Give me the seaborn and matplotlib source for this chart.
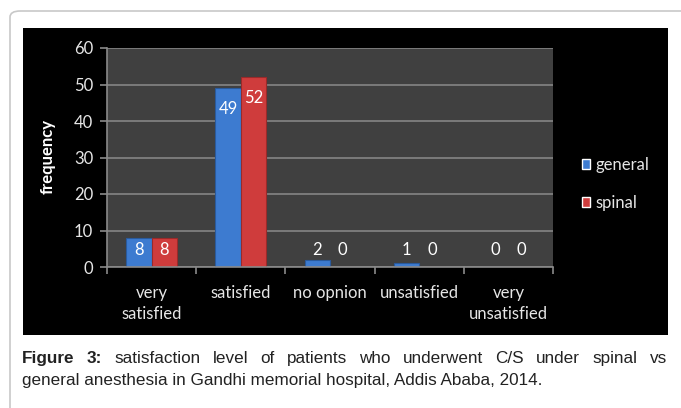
import pandas as pd
import numpy as np
import matplotlib.pyplot as plt
import seaborn as sns
from matplotlib.patches import Rectangle, FancyBboxPatch

# Chart data
categories = ['very\nsatisfied', 'satisfied', 'no opnion', 'unsatisfied', 'very\nunsatisfied']
general = [8, 49, 2, 1, 0]
spinal = [8, 52, 0, 0, 0]
groups = ['general', 'spinal']

df = pd.DataFrame({
    'category': categories * 2,
    'group': ['general'] * len(categories) + ['spinal'] * len(categories),
    'value': general + spinal,
})

sns.set_style('dark')
plt.rcParams['font.family'] = ['Lato', 'DejaVu Sans']

W, H = 681, 408
fig = plt.figure(figsize=(W / 100, H / 100), dpi=100)
fig.patch.set_facecolor('white')

# outer rounded frame and black chart area
frame = FancyBboxPatch((10 / W, 1 - 500 / H), 800 / W, 489 / H,
                       boxstyle='round,pad=0,rounding_size=0.015',
                       transform=fig.transFigure, facecolor='white',
                       edgecolor='#c8c8c8', linewidth=1.2, zorder=-2)
fig.patches.append(frame)
fig.patches.append(Rectangle((23 / W, 1 - 335 / H), 645 / W, 307 / H,
                             transform=fig.transFigure, facecolor='black',
                             edgecolor='none', zorder=-1))

ax = fig.add_axes([107 / W, 1 - 267 / H, 446 / W, 219 / H])
palette = {'general': '#3d7bd0', 'spinal': '#cf3c3c'}
sns.barplot(data=df, x='category', y='value', hue='group', palette=palette,
            width=0.57, saturation=1, ax=ax, legend=True)
edge = {0: '#2a5a9c', 1: '#9a2a2a'}
for i, cont in enumerate(ax.containers):
    for bar in cont:
        bar.set_edgecolor(edge[i])
        bar.set_linewidth(0.8)

ax.set_facecolor('#404040')
ax.set_ylim(0, 60)
ax.set_yticks(range(0, 61, 10))
ax.set_xlim(-0.5, len(categories) - 0.5)
ax.grid(axis='y', color='#858585', linewidth=1.2)
ax.grid(axis='x', visible=False)
ax.set_axisbelow(True)
for s in ['top', 'right']:
    ax.spines[s].set_visible(False)
for s in ['left', 'bottom']:
    ax.spines[s].set_color('#8a8a8a')
    ax.spines[s].set_linewidth(1.2)

ax.tick_params(axis='y', colors='#8a8a8a', labelcolor='#e6e6e6', labelsize=12,
               length=5, width=1.2, direction='out', left=True, pad=5)
ax.tick_params(axis='x', which='major', length=0, labelcolor='#e6e6e6',
               labelsize=12, pad=13)
ax.set_xticks(np.arange(-0.5, len(categories)), minor=True)
ax.tick_params(axis='x', which='minor', length=5, width=1.2, color='#8a8a8a',
               direction='out', bottom=True)
for lbl in ax.get_xticklabels():
    lbl.set_linespacing(1.35)

ax.set_xlabel('')
ax.set_ylabel('frequency', color='white', fontsize=12, fontweight='bold')
ax.yaxis.set_label_coords((56 - 107) / 446, (267 - 157) / 219)

# bar value labels
px_per_unit = 219 / 60
for cont in ax.containers:
    for bar in cont:
        v = bar.get_height()
        y = max(v - 21 / px_per_unit, 17 / px_per_unit)
        ax.text(bar.get_x() + bar.get_width() / 2, y, f'{int(v)}',
                ha='center', va='center', color='white', fontsize=12)

leg = ax.legend(loc='center left', frameon=False, handlelength=0.5,
                handleheight=0.5, handletextpad=0.3, labelspacing=1.3,
                fontsize=12, labelcolor='#e6e6e6')
leg.set_bbox_to_anchor((567 / W, 1 - 184 / H), transform=fig.transFigure)

# caption, first line justified between x=22 and x=667
cap_font = dict(fontsize=12.3, family=['Liberation Sans'], color='#222222', va='baseline')
line1 = [('Figure', 'bold'), ('3:', 'bold')] + [
    (w, 'normal') for w in 'satisfaction level of patients who underwent C/S under spinal vs'.split()]
fig.canvas.draw()
renderer = fig.canvas.get_renderer()
texts = []
for word, weight in line1:
    t = fig.text(0, 1 - 363 / H, word, fontweight=weight, **cap_font)
    texts.append(t)
widths = [t.get_window_extent(renderer).width for t in texts]
gap = (645 - sum(widths)) / (len(texts) - 1)
x = 22.0
for t, w in zip(texts, widths):
    t.set_x(x / W)
    x += w + gap
fig.text(22 / W, 1 - 385 / H,
         'general anesthesia in Gandhi memorial hospital, Addis Ababa, 2014.',
         **cap_font)

fig.savefig('out.png', dpi=100, facecolor='white')
